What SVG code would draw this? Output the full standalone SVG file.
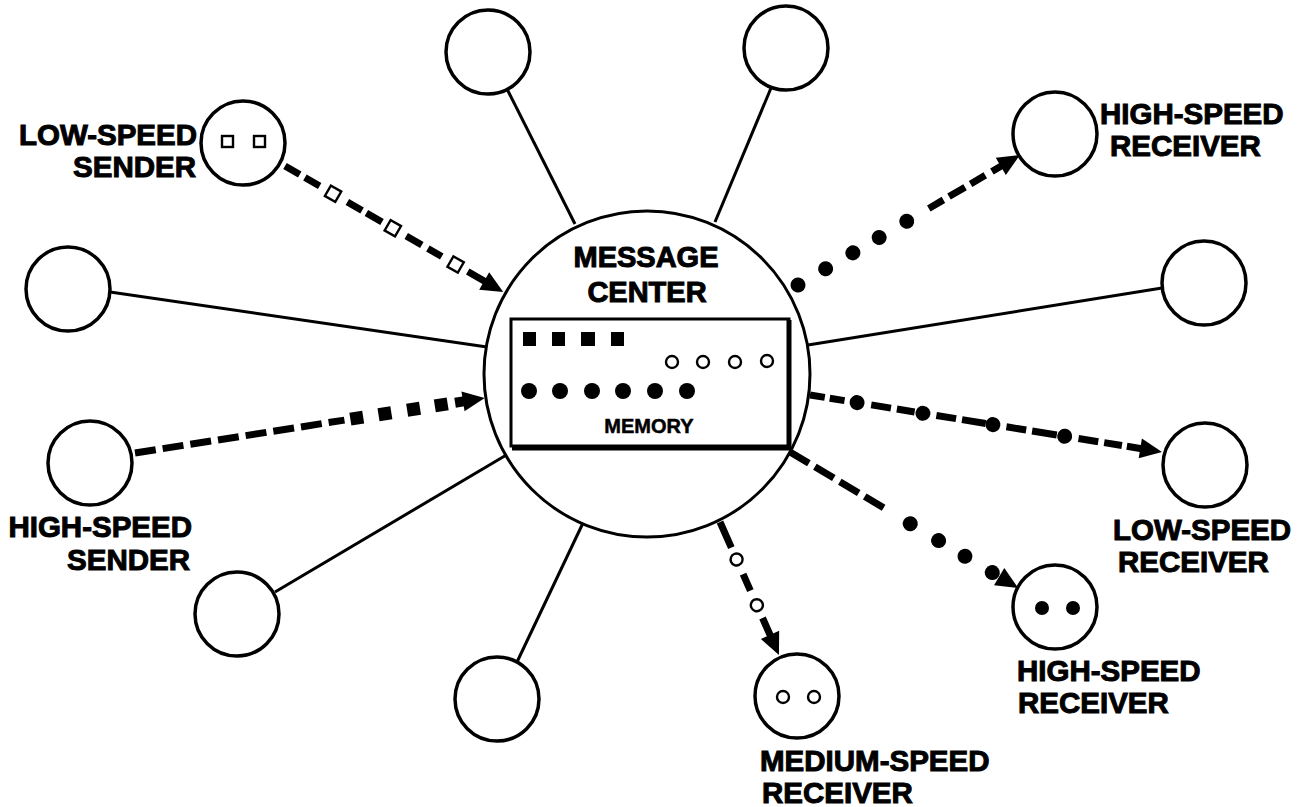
<svg xmlns="http://www.w3.org/2000/svg" width="1301" height="807" viewBox="0 0 1301 807">
  <style>
    .ring { fill: #fff; stroke: #000; stroke-width: 3.5; }
    .hub { fill: #fff; stroke: #000; stroke-width: 3; }
    .spoke { stroke: #000; stroke-width: 3; fill: none; }
    .dash { stroke: #000; stroke-width: 7; fill: none; }
    .blot { fill: #000; }
    .hollow { fill: #fff; stroke: #000; stroke-width: 2.4; }
    .label { font-family: "Liberation Sans", Arial, sans-serif; font-weight: bold; font-size: 29.5px; fill: #000; stroke: #000; stroke-width: 1; }
    .hub-label { font-size: 29px; }
    .mem-label { font-family: "Liberation Sans", Arial, sans-serif; font-weight: bold; font-size: 20px; fill: #000; stroke: #000; stroke-width: 0.5; }
  </style>
  <defs>
    <!-- arrowhead drawn with its tip at the origin, pointing along +x -->
    <polygon id="head" points="0,0 -22,-10 -22,10" fill="#000"/>
  </defs>

  <rect width="1301" height="807" fill="#fff"/>

  <!-- solid links from the idle stations to the hub -->
  <g id="connectors">
    <line class="spoke" x1="507" y1="89" x2="575" y2="224"/>
    <line class="spoke" x1="771" y1="88" x2="715" y2="222"/>
    <line class="spoke" x1="110" y1="292" x2="487" y2="347"/>
    <line class="spoke" x1="1162" y1="288" x2="808" y2="345"/>
    <line class="spoke" x1="275" y1="592" x2="508" y2="454"/>
    <line class="spoke" x1="517" y1="662" x2="583" y2="523"/>

    <!-- low-speed sender into the hub: dashes and open squares -->
    <g transform="translate(285,166) rotate(30)">
      <path class="dash" d="M0 0H17M23 0H40M72 0H89M94 0H112M140 0H158M165 0H181M211 0H232"/>
      <rect class="hollow" x="49.5" y="-6" width="12" height="12"/>
      <rect class="hollow" x="118.5" y="-6" width="12" height="12"/>
      <rect class="hollow" x="191" y="-6" width="12" height="12"/>
      <use href="#head" x="252" y="0"/>
    </g>

    <!-- high-speed sender into the hub: dashes then filled squares -->
    <g transform="translate(135,453) rotate(-8.93)">
      <path class="dash" d="M0 0H21M28 0H49M56 0H77M84 0H105M112 0H133M140 0H161M168 0H189M196 0H212"/>
      <rect class="blot" x="218" y="-6.5" width="13" height="13"/>
      <rect class="blot" x="246.5" y="-6.5" width="13" height="13"/>
      <rect class="blot" x="275.5" y="-6.5" width="13" height="13"/>
      <rect class="blot" x="303.5" y="-6.5" width="13" height="13"/>
      <rect class="blot" x="324" y="-5" width="10" height="10"/>
      <use href="#head" x="354" y="0"/>
    </g>

    <!-- hub to upper high-speed receiver: dots then dashes -->
    <g transform="translate(798,285) rotate(-30.35)">
      <circle class="blot" cx="0" cy="0" r="7.5"/>
      <circle class="blot" cx="32" cy="0" r="7.5"/>
      <circle class="blot" cx="63.6" cy="0" r="7.5"/>
      <circle class="blot" cx="94" cy="0" r="7.5"/>
      <circle class="blot" cx="126" cy="0" r="7.5"/>
      <path class="dash" d="M151.6 0H168.5M175 0H193.6M200 0H217M224.7 0H240"/>
      <use href="#head" x="257" y="0"/>
    </g>

    <!-- hub to low-speed receiver: dashes with dots -->
    <g transform="translate(810,395) rotate(9.2)">
      <path class="dash" d="M0 0H15M20 0H35M62 0H82M88 0H106M128 0H148M154 0H178M199 0H219M225 0H250M272 0H292M298 0H316M321 0H336"/>
      <circle class="blot" cx="47.7" cy="0" r="7.5"/>
      <circle class="blot" cx="114.4" cy="0" r="7.5"/>
      <circle class="blot" cx="185.3" cy="0" r="7.5"/>
      <circle class="blot" cx="258" cy="0" r="7.5"/>
      <use href="#head" x="356.6" y="0"/>
    </g>

    <!-- hub to lower high-speed receiver: dashes then dots -->
    <g transform="translate(790,452) rotate(30.8)">
      <path class="dash" d="M0 0H22M29 0H51M58 0H80M87 0H109"/>
      <circle class="blot" cx="140" cy="0" r="7.5"/>
      <circle class="blot" cx="173" cy="0" r="7.5"/>
      <circle class="blot" cx="203.7" cy="0" r="7.5"/>
      <circle class="blot" cx="235.5" cy="0" r="7.5"/>
      <use href="#head" x="265.5" y="0"/>
    </g>

    <!-- hub to medium-speed receiver: dashes with open circles -->
    <g transform="translate(720,522) rotate(66.1)">
      <path class="dash" d="M0 0H28M57 0H75M105 0H125"/>
      <circle class="hollow" cx="41" cy="0" r="6"/>
      <circle class="hollow" cx="91" cy="0" r="6"/>
      <use href="#head" x="145.5" y="0"/>
    </g>
  </g>

  <!-- message center with its memory -->
  <g id="message-center">
    <circle class="hub" cx="647" cy="374" r="163"/>
    <text class="label hub-label" x="646" y="267" text-anchor="middle">MESSAGE</text>
    <text class="label hub-label" x="647" y="302" text-anchor="middle">CENTER</text>
    <g id="memory">
      <rect x="511" y="319" width="278" height="127" fill="#fff" stroke="#000" stroke-width="3"/>
      <path d="M789 320V448H512" fill="none" stroke="#000" stroke-width="5"/>
      <rect class="blot" x="523" y="332" width="13" height="14"/>
      <rect class="blot" x="552" y="332" width="13" height="14"/>
      <rect class="blot" x="581" y="332" width="14" height="14"/>
      <rect class="blot" x="611" y="332" width="13" height="14"/>
      <circle class="hollow" cx="672" cy="362" r="6"/>
      <circle class="hollow" cx="703" cy="362" r="6"/>
      <circle class="hollow" cx="735" cy="362" r="6"/>
      <circle class="hollow" cx="767" cy="361" r="6"/>
      <circle class="blot" cx="529" cy="391" r="8"/>
      <circle class="blot" cx="560" cy="391" r="8"/>
      <circle class="blot" cx="592" cy="391" r="8"/>
      <circle class="blot" cx="623" cy="391" r="8"/>
      <circle class="blot" cx="655" cy="391" r="8"/>
      <circle class="blot" cx="687" cy="391" r="8"/>
      <text class="mem-label" x="649" y="433" text-anchor="middle">MEMORY</text>
    </g>
  </g>

  <!-- idle stations -->
  <g id="station-top-left"><circle class="ring" cx="488" cy="52" r="42"/></g>
  <g id="station-top-right"><circle class="ring" cx="786" cy="48" r="42"/></g>
  <g id="station-left"><circle class="ring" cx="68" cy="289" r="42"/></g>
  <g id="station-right"><circle class="ring" cx="1204" cy="283" r="42"/></g>
  <g id="station-bottom-left"><circle class="ring" cx="237" cy="614" r="42"/></g>
  <g id="station-bottom"><circle class="ring" cx="497" cy="699" r="42"/></g>

  <!-- active stations -->
  <g id="low-speed-sender">
    <circle class="ring" cx="243" cy="143" r="42"/>
    <rect class="hollow" x="222" y="136" width="11" height="11"/>
    <rect class="hollow" x="254" y="136" width="11" height="11"/>
    <text class="label" x="197" y="145" text-anchor="end">LOW-SPEED</text>
    <text class="label" x="196" y="177" text-anchor="end">SENDER</text>
  </g>

  <g id="high-speed-sender">
    <circle class="ring" cx="90" cy="463" r="42"/>
    <text class="label" x="192" y="537" text-anchor="end">HIGH-SPEED</text>
    <text class="label" x="190" y="570" text-anchor="end">SENDER</text>
  </g>

  <g id="high-speed-receiver-upper">
    <circle class="ring" cx="1055" cy="134" r="42"/>
    <text class="label" x="1100" y="124">HIGH-SPEED</text>
    <text class="label" x="1110" y="156">RECEIVER</text>
  </g>

  <g id="low-speed-receiver">
    <circle class="ring" cx="1205" cy="465" r="42"/>
    <text class="label" x="1113" y="540">LOW-SPEED</text>
    <text class="label" x="1118" y="572">RECEIVER</text>
  </g>

  <g id="high-speed-receiver-lower">
    <circle class="ring" cx="1055" cy="607" r="42"/>
    <circle class="blot" cx="1042" cy="608" r="7"/>
    <circle class="blot" cx="1073" cy="608" r="7"/>
    <text class="label" x="1017" y="681">HIGH-SPEED</text>
    <text class="label" x="1018" y="713">RECEIVER</text>
  </g>

  <g id="medium-speed-receiver">
    <circle class="ring" cx="797" cy="696" r="42"/>
    <circle class="hollow" cx="783" cy="697" r="6"/>
    <circle class="hollow" cx="814" cy="697" r="6"/>
    <text class="label" x="760" y="771">MEDIUM-SPEED</text>
    <text class="label" x="762" y="803">RECEIVER</text>
  </g>
</svg>
